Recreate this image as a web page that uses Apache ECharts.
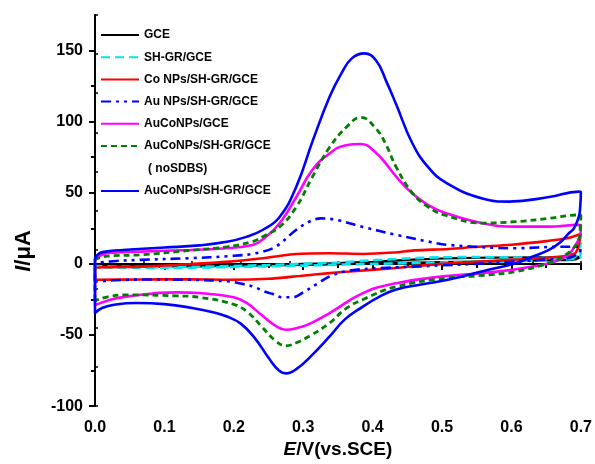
<!DOCTYPE html>
<html><head><meta charset="utf-8">
<script src="https://cdn.jsdelivr.net/npm/echarts@6/dist/echarts.min.js"></script>
<style>html,body{margin:0;padding:0;background:#fff}#c{width:595px;height:464px}</style>
</head><body><div id="c"></div>
<script>
const FONT = "'Liberation Sans', Arial, sans-serif";
const seriesNames = ['GCE','SH-GR/GCE','Co NPs/SH-GR/GCE','Au NPs/SH-GR/GCE','AuCoNPs/GCE','AuCoNPs/SH-GR/GCE (noSDBS)','AuCoNPs/SH-GR/GCE'];
const xTickLabels = ['0.0','0.1','0.2','0.3','0.4','0.5','0.6','0.7'];
const yTickValues = [-100,-50,0,50,100,150];
const yMinorValues = [-75,-25,25,75,125];

// CV loops: forward scan 0 -> 0.7 V, then reverse 0.7 -> 0 V   [E (V), I (uA)]
const gce = [[0,-2],[0,-1],[0.1,-1],[0.2,-0.8],[0.25,-0.5],[0.3,0],[0.35,0.6],[0.4,1.5],[0.45,2.8],[0.5,3.8],[0.55,4.3],[0.6,4.5],[0.65,4.6],[0.7,5],
  [0.69,3],[0.65,2.5],[0.6,2],[0.5,1.2],[0.4,0.3],[0.35,-0.2],[0.3,-0.7],[0.2,-1.5],[0.1,-2],[0,-2]];
const shgr = [[0,-2.5],[0,-1.5],[0.05,-2],[0.1,-2.3],[0.15,-2],[0.2,-1.5],[0.25,-0.8],[0.3,0],[0.35,1],[0.4,2.5],[0.45,3.8],[0.5,4.6],[0.55,4.8],[0.6,4.5],[0.65,4.2],[0.69,4.5],[0.7,15],
  [0.699,5],[0.69,3.5],[0.65,2.5],[0.6,1.8],[0.5,1],[0.45,0.5],[0.4,0],[0.35,-0.5],[0.3,-1.2],[0.2,-2.2],[0.1,-2.8],[0,-2.5]];
const coNPs = [[0,-11.2],[0,-3],[0.065,-1.9],[0.137,-0.2],[0.194,1.6],[0.242,4],[0.29,7],[0.338,7.5],[0.386,7],[0.43,8],[0.46,9.5],[0.51,10.5],[0.55,12],[0.6,13.5],[0.65,16],[0.68,18],[0.7,21],
  [0.695,10],[0.69,7],[0.668,5],[0.6,2.8],[0.55,1.5],[0.5,0],[0.462,-1.5],[0.43,-3],[0.367,-5.4],[0.338,-6.5],[0.295,-8.5],[0.25,-10.5],[0.194,-11.2],[0.137,-10.8],[0.065,-11],[0,-11.2]];
const auNPs = [[0,-12.4],[0,-1],[0.02,1.6],[0.065,2.8],[0.137,4],[0.194,5.5],[0.232,7.5],[0.26,12],[0.29,24],[0.31,30],[0.325,32],[0.347,31],[0.386,26],[0.434,20.4],[0.48,15.7],[0.51,13.3],[0.606,11],[0.668,12],[0.697,12],[0.7,12],
  [0.698,8],[0.69,5.5],[0.68,4],[0.65,3],[0.6,1.5],[0.55,0],[0.5,-1],[0.46,-2],[0.41,-3],[0.37,-4.5],[0.343,-7.7],[0.32,-14],[0.3,-20],[0.285,-23.5],[0.27,-23.5],[0.255,-21],[0.242,-19],[0.228,-16],[0.208,-13.6],[0.194,-12.4],[0.137,-11.2],[0.065,-11],[0,-12.4]];
const auCoGCE = [[0,-29],[0,3],[0.005,5],[0.017,7.5],[0.065,8.6],[0.137,9.8],[0.19,11],[0.227,13.3],[0.241,16.9],[0.266,28.6],[0.29,47],[0.313,66],[0.338,77.7],[0.36,83.3],[0.383,84.3],[0.405,78],[0.42,70],[0.434,61.3],[0.457,49.6],[0.48,41.4],[0.506,35.6],[0.558,28.6],[0.606,26.2],[0.654,26.2],[0.697,27.4],[0.7,27],
  [0.699,20],[0.694,14.6],[0.678,5],[0.63,-1.9],[0.558,-6.5],[0.506,-8.5],[0.434,-13.6],[0.386,-20.6],[0.338,-34.6],[0.31,-42],[0.29,-45.2],[0.275,-46.3],[0.26,-43.5],[0.24,-36],[0.22,-28],[0.2,-23.5],[0.15,-20.5],[0.117,-20],[0.0455,-23],[0.02,-25.5],[0,-29]];
const auCoNoSDBS = [[0,-26],[0,2],[0.005,4],[0.02,5.5],[0.07,6.5],[0.137,9.5],[0.19,12],[0.227,15.7],[0.241,19],[0.266,26],[0.29,40],[0.313,61],[0.338,82],[0.362,96],[0.383,103],[0.405,95],[0.42,83],[0.434,68],[0.457,50],[0.48,40],[0.506,34],[0.558,28.7],[0.606,29.7],[0.654,32],[0.697,34.4],[0.7,34],
  [0.699,25],[0.697,17],[0.687,10],[0.67,4],[0.654,0.5],[0.606,-5.4],[0.56,-8],[0.506,-10],[0.434,-16],[0.386,-25],[0.36,-32],[0.338,-41.6],[0.31,-50.5],[0.29,-55.5],[0.275,-57.6],[0.26,-54],[0.24,-44],[0.22,-34],[0.2,-28.5],[0.15,-23.5],[0.117,-22.5],[0.0455,-21.8],[0.02,-23],[0,-26]];
const auCoSHGR = [[0,-34.6],[0,3],[0.005,7],[0.015,8.6],[0.04,9.8],[0.1,11.5],[0.15,13],[0.19,15.5],[0.218,19],[0.242,24],[0.266,33],[0.29,54.3],[0.314,87],[0.338,117.5],[0.355,134],[0.37,144.5],[0.388,148],[0.405,143],[0.42,128],[0.434,112],[0.457,85],[0.48,68],[0.506,57],[0.558,46],[0.597,43.8],[0.654,47],[0.697,50.8],[0.7,50],
  [0.699,40],[0.697,33],[0.69,25],[0.683,21.7],[0.67,15],[0.654,9.8],[0.63,5],[0.606,0.5],[0.56,-5],[0.51,-11],[0.47,-14.5],[0.434,-18],[0.41,-23],[0.386,-30],[0.36,-39],[0.338,-51],[0.313,-64],[0.29,-74],[0.275,-77],[0.265,-75],[0.25,-66],[0.23,-52],[0.21,-42],[0.19,-37],[0.17,-34],[0.14,-31],[0.1,-28.3],[0.06,-27.5],[0.03,-28.5],[0.01,-31],[0,-34.6]];

const chart = echarts.init(document.getElementById('c'), null, {renderer:'canvas'});
const mk = (name, data, color, width, type, sm) => ({
  name, type:'line', data, symbol:'none', smooth:sm, clip:true,
  lineStyle:{color, width, type}, itemStyle:{color}, emphasis:{disabled:true}
});
const legendText = {fontSize:12, fontWeight:'bold', color:'#000', fontFamily:FONT, lineHeight:14};
const legendBase = {orient:'vertical', left:100, padding:0, itemWidth:38, itemHeight:14, itemGap:8.2, selectedMode:false, textStyle:legendText, itemStyle:{opacity:0}};
chart.setOption({
  animation:false,
  grid:{left:95, right:13, top:15, bottom:57},
  legend:[
    Object.assign({}, legendBase, {data:seriesNames.slice(0,6), top:28, formatter: n => n.replace(' (noSDBS)','')}),
    Object.assign({}, legendBase, {data:seriesNames.slice(6), top:184})
  ],
  xAxis:[
    {type:'value', min:0, max:0.7, interval:0.1, position:'bottom',
     name:'{i|E}/V(vs.SCE)', nameLocation:'middle', nameGap:29,
     nameTextStyle:{fontSize:19, fontWeight:'bold', color:'#000', fontFamily:FONT, rich:{i:{fontSize:19, fontWeight:'bold', fontStyle:'italic', color:'#000', fontFamily:FONT}}},
     axisLine:{lineStyle:{color:'#000', width:2}},
     axisTick:{inside:false, length:6, lineStyle:{color:'#000', width:2}},
     minorTick:{show:true, splitNumber:2, length:4, lineStyle:{color:'#000', width:2}},
     axisLabel:{margin:13, fontSize:16, fontWeight:'bold', color:'#000', fontFamily:FONT, formatter:v => xTickLabels[Math.round(v*10)]},
     splitLine:{show:false}},
    {type:'value', min:0, max:10, interval:1, position:'top',
     axisLine:{lineStyle:{color:'#000', width:2}},
     axisTick:{inside:false, length:3, lineStyle:{color:'#000', width:1.5}},
     axisLabel:{show:false}, splitLine:{show:false}}
  ],
  yAxis:[
    {type:'value', min:-100, max:175, position:'left',
     axisLine:{onZero:false, lineStyle:{color:'#000', width:2}},
     axisTick:{inside:false, length:6, customValues:yTickValues, lineStyle:{color:'#000', width:2}},
     axisLabel:{margin:12, fontSize:16, fontWeight:'bold', color:'#000', fontFamily:FONT, customValues:yTickValues},
     splitLine:{show:false}},
    {type:'value', min:-100, max:175, position:'left', offset:0,
     axisLine:{show:false},
     axisTick:{inside:false, length:4, customValues:yMinorValues, lineStyle:{color:'#000', width:2}},
     axisLabel:{show:false, customValues:yMinorValues}, splitLine:{show:false}},
    {type:'value', min:0, max:10, interval:1, position:'right',
     axisLine:{lineStyle:{color:'#000', width:2}},
     axisTick:{inside:false, length:3, lineStyle:{color:'#000', width:1.5}},
     axisLabel:{show:false}, splitLine:{show:false}}
  ],
  graphic:[
    {type:'text', x:24, y:251, rotation:Math.PI/2,
     style:{text:'{i|I}/μA', align:'center', verticalAlign:'middle', fill:'#000', font:'bold 22px '+FONT,
       rich:{i:{font:'italic bold 22px '+FONT, fill:'#000'}}}},
    {type:'text', x:148, y:169,
     style:{text:'( noSDBS)', verticalAlign:'middle', fill:'#000', font:'bold 12px '+FONT}}
  ],
  series:[
    mk(seriesNames[0], gce, '#000000', 2.2, 'solid', 0.3),
    mk(seriesNames[1], shgr, '#00e5ee', 2.6, [9,5], 0.3),
    mk(seriesNames[2], coNPs, '#ff0000', 2.6, 'solid', 0.3),
    mk(seriesNames[3], auNPs, '#0000ff', 2.6, [10,5,3,5,3,5], 0.35),
    mk(seriesNames[4], auCoGCE, '#ff00ff', 2.6, 'solid', 0.45),
    mk(seriesNames[5], auCoNoSDBS, '#007f00', 2.8, [6,4], 0.45),
    mk(seriesNames[6], auCoSHGR, '#0000ff', 2.6, 'solid', 0.45)
  ]
});
</script></body></html>
